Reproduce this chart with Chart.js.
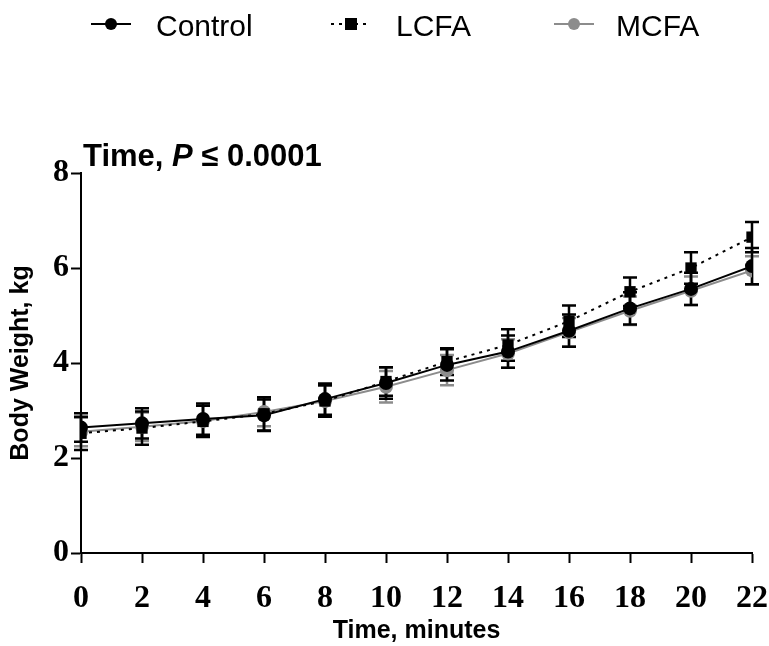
<!DOCTYPE html>
<html>
<head>
<meta charset="utf-8">
<script src="https://cdn.jsdelivr.net/npm/chart.js@4/dist/chart.umd.min.js"></script>
<style>
html,body{margin:0;padding:0;background:#fff;}
#wrap{position:relative;width:769px;height:646px;}
</style>
</head>
<body>
<div id="wrap"><canvas id="c"></canvas></div>
<script>
const timePoints = [0, 2, 4, 6, 8, 10, 12, 14, 16, 18, 20, 22];
const controlValues = [2.64, 2.73, 2.82, 2.90, 3.24, 3.58, 3.96, 4.24, 4.68, 5.15, 5.56, 6.04];
const lcfaValues    = [2.52, 2.63, 2.77, 2.93, 3.20, 3.61, 4.03, 4.38, 4.88, 5.50, 6.00, 6.65];
const mcfaValues    = [2.55, 2.66, 2.78, 2.97, 3.20, 3.50, 3.85, 4.20, 4.65, 5.10, 5.52, 5.95];
const controlErr = [0.30, 0.32, 0.33, 0.33, 0.33, 0.33, 0.33, 0.34, 0.34, 0.34, 0.34, 0.38];
const lcfaErr    = [0.35, 0.35, 0.33, 0.35, 0.33, 0.30, 0.28, 0.33, 0.33, 0.30, 0.33, 0.32];
const mcfaErr    = [0.30, 0.30, 0.32, 0.30, 0.32, 0.33, 0.32, 0.30, 0.30, 0.30, 0.30, 0.30];
const seriesNames = ['Control', 'LCFA', 'MCFA'];
const xTicks = [0, 2, 4, 6, 8, 10, 12, 14, 16, 18, 20, 22];
const yTicks = [0, 2, 4, 6, 8];

const GRAY = '#8c8c8c';
const pts = (vals) => timePoints.map((t, i) => ({x: t, y: vals[i]}));

const errorBarPlugin = {
  id: 'errorBars',
  beforeDatasetsDraw(chart) {
    const ctx = chart.ctx;
    const xs = chart.scales.x, ys = chart.scales.y;
    const sets = [
      {vals: mcfaValues, err: mcfaErr, color: GRAY},
      {vals: controlValues, err: controlErr, color: '#000'},
      {vals: lcfaValues, err: lcfaErr, color: '#000'}
    ];
    ctx.save();
    ctx.lineWidth = 2.5;
    sets.forEach(s => {
      ctx.strokeStyle = s.color;
      timePoints.forEach((t, i) => {
        const px = xs.getPixelForValue(t);
        const top = ys.getPixelForValue(s.vals[i] + s.err[i]);
        const bot = ys.getPixelForValue(s.vals[i] - s.err[i]);
        ctx.beginPath();
        ctx.moveTo(px, top); ctx.lineTo(px, bot);
        ctx.moveTo(px - 7, top); ctx.lineTo(px + 7, top);
        ctx.moveTo(px - 7, bot); ctx.lineTo(px + 7, bot);
        ctx.stroke();
      });
    });
    ctx.restore();
  }
};

const decorPlugin = {
  id: 'decor',
  afterDraw(chart) {
    const ctx = chart.ctx;
    ctx.save();
    const items = [
      {name: seriesNames[0], x0: 91, x1: 131, color: '#000', dash: [], marker: 'circle', tx: 156},
      {name: seriesNames[1], x0: 331, x1: 371, color: '#000', dash: [3, 5], marker: 'rect', tx: 396},
      {name: seriesNames[2], x0: 554, x1: 594, color: GRAY, dash: [], marker: 'circle', tx: 616}
    ];
    const ly = 24;
    items.forEach(it => {
      ctx.strokeStyle = it.color; ctx.fillStyle = it.color;
      ctx.lineWidth = 2;
      ctx.setLineDash(it.dash);
      ctx.beginPath(); ctx.moveTo(it.x0, ly); ctx.lineTo(it.x1, ly); ctx.stroke();
      ctx.setLineDash([]);
      const cx = (it.x0 + it.x1) / 2;
      if (it.marker === 'circle') { ctx.beginPath(); ctx.arc(cx, ly, 6, 0, Math.PI * 2); ctx.fill(); }
      else { ctx.fillRect(cx - 6, ly - 6, 12, 12); }
      ctx.fillStyle = '#000';
      ctx.font = '30px "Liberation Sans", Arial, sans-serif';
      ctx.textBaseline = 'alphabetic';
      ctx.fillText(it.name, it.tx, 36);
    });
    let x = 83; const by = 166;
    ctx.fillStyle = '#000';
    ctx.font = 'bold 31px "Liberation Sans", Arial, sans-serif';
    ctx.fillText('Time, ', x, by); x += ctx.measureText('Time, ').width;
    ctx.font = 'italic bold 31px "Liberation Sans", Arial, sans-serif';
    ctx.fillText('P', x, by); x += ctx.measureText('P').width;
    ctx.font = 'bold 31px "Liberation Sans", Arial, sans-serif';
    ctx.fillText(' \u2264 0.0001', x, by);
    ctx.restore();
  }
};

new Chart(document.getElementById('c'), {
  type: 'line',
  data: {
    datasets: [
      {label: seriesNames[0], data: pts(controlValues), borderColor: '#000', backgroundColor: '#000',
       borderWidth: 2, pointStyle: 'circle', pointRadius: 7, pointBorderWidth: 0, order: 1},
      {label: seriesNames[1], data: pts(lcfaValues), borderColor: '#000', backgroundColor: '#000',
       borderWidth: 2, borderDash: [3, 5], pointStyle: 'rect', pointRadius: 8, pointBorderWidth: 0, order: 0},
      {label: seriesNames[2], data: pts(mcfaValues), borderColor: GRAY, backgroundColor: GRAY,
       borderWidth: 2, pointStyle: 'circle', pointRadius: 7, pointBorderWidth: 0, order: 2}
    ]
  },
  options: {
    responsive: true,
    maintainAspectRatio: false,
    animation: false,
    layout: {autoPadding: false, padding: {top: 173, right: 17, left: 0, bottom: 0}},
    plugins: {legend: {display: false}, tooltip: {enabled: false}, title: {display: false}},
    scales: {
      x: {
        type: 'linear', min: 0, max: 22,
        afterBuildTicks(s) { s.ticks = xTicks.map(v => ({value: v})); },
        afterFit(s) { s.height = 93; s.paddingLeft = 0; s.paddingRight = 0; },
        border: {display: true, color: '#000', width: 2},
        grid: {drawOnChartArea: false, drawTicks: true, tickLength: 10, tickWidth: 2, tickColor: '#000'},
        ticks: {color: '#000', padding: 17, maxRotation: 0, autoSkip: false,
                font: {family: '"Liberation Serif", "Times New Roman", serif', size: 32, weight: 'bold'}},
        title: {display: true, text: 'Time, minutes', color: '#000', padding: {top: 0, bottom: 0},
                font: {family: '"Liberation Sans", Arial, sans-serif', size: 25, weight: 'bold'}}
      },
      y: {
        type: 'linear', min: 0, max: 8,
        afterBuildTicks(s) { s.ticks = yTicks.map(v => ({value: v})); },
        afterFit(s) { s.width = 81; s.paddingTop = 0; s.paddingBottom = 0; },
        border: {display: true, color: '#000', width: 2},
        grid: {drawOnChartArea: false, drawTicks: true, tickLength: 10, tickWidth: 2, tickColor: '#000'},
        ticks: {color: '#000', padding: 2, autoSkip: false,
                font: {family: '"Liberation Serif", "Times New Roman", serif', size: 32, weight: 'bold'}},
        title: {display: true, text: 'Body Weight, kg', color: '#000', padding: {top: 6, bottom: 0},
                font: {family: '"Liberation Sans", Arial, sans-serif', size: 25, weight: 'bold'}}
      }
    }
  },
  plugins: [errorBarPlugin, decorPlugin]
});
</script>
</body>
</html>
